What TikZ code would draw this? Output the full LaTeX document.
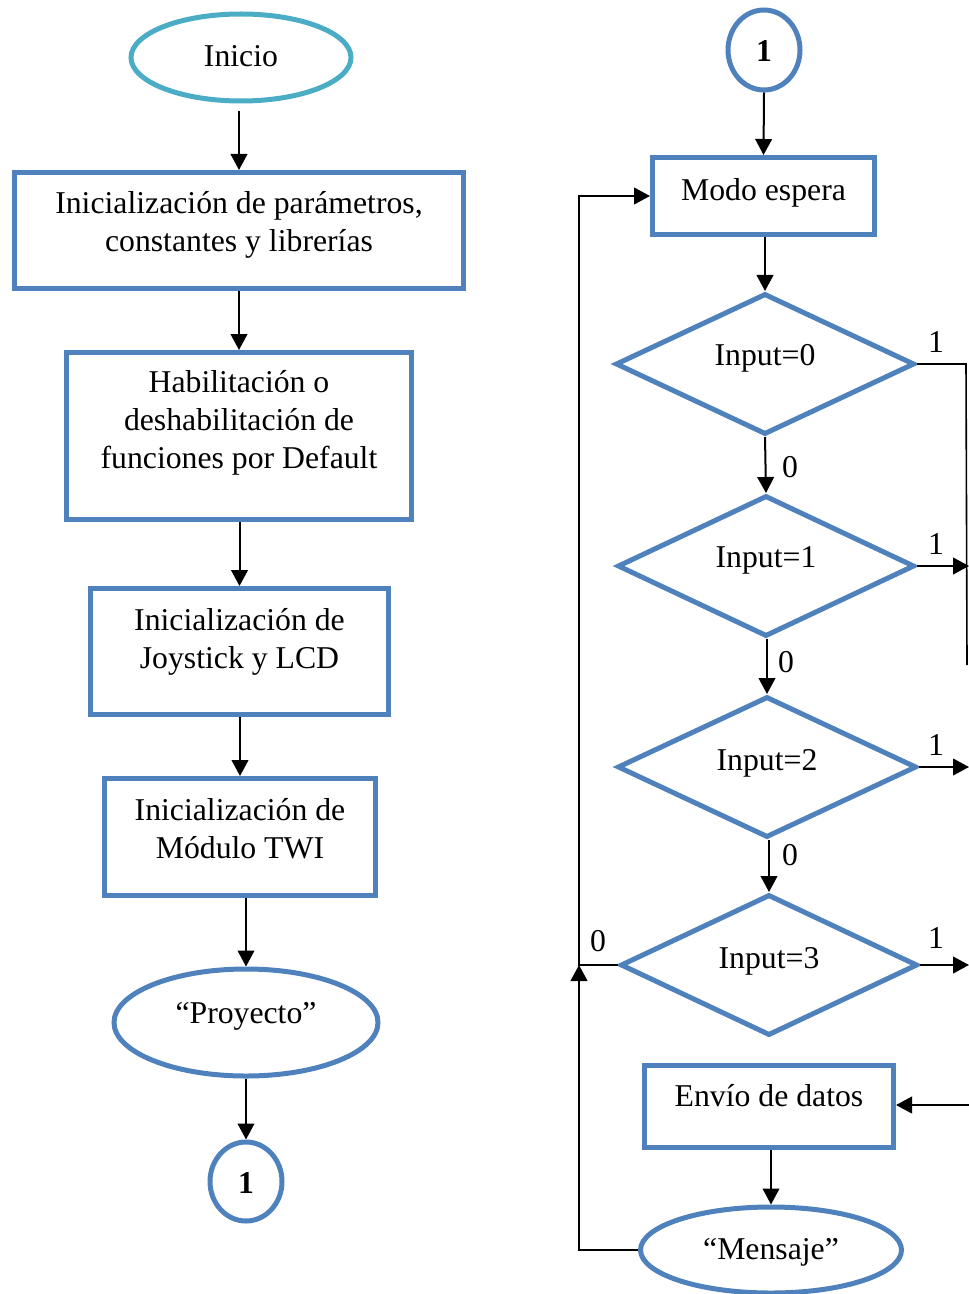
\documentclass[tikz,border=0pt]{standalone}
\usepackage{fontspec}
\setmainfont{Liberation Serif}
\usetikzlibrary{shapes.geometric,arrows.meta}
\definecolor{boxblue}{RGB}{79,129,189}
\definecolor{startcyan}{RGB}{75,172,198}
\begin{document}
\begin{tikzpicture}[x=0.75pt,y=-0.75pt,
  every node/.style={font=\fontsize{23.8}{28.5}\selectfont, inner sep=0pt, text=black},
  blk/.style={draw=boxblue, line width=3.75pt, rectangle},
  oval/.style={draw=boxblue, line width=3.75pt, ellipse},
  dec/.style={draw=boxblue, line width=3.75pt, diamond},
  txt/.style={align=center},
  conn/.style={line width=1.5pt, black},
  arr/.style={conn, -{Triangle[length=12pt,width=12.5pt]}}
]
\useasboundingbox (0,0) rectangle (969,1294);

% ---- left column: initialisation sequence ----
\node[oval, draw=startcyan, minimum width={220*0.75pt}, minimum height={87*0.75pt}] (inicio) at (241,57.5) {};
\node[txt] (inicioT) at ([yshift=0.75pt]inicio.center) {Inicio};

\node[blk, minimum width={449*0.75pt}, minimum height={116*0.75pt}] (b1) at (239,230.5) {};
\node[txt] (b1T) at ([yshift=4.5pt]b1.center) {Inicialización de parámetros,\\constantes y librerías};

\node[blk, minimum width={345*0.75pt}, minimum height={167*0.75pt}] (b2) at (239,436) {};
\node[txt] (b2T) at ([yshift=9.5pt]b2.center) {Habilitación o\\deshabilitación de\\funciones por Default};

\node[blk, minimum width={298*0.75pt}, minimum height={126*0.75pt}] (b3) at (239.5,651.5) {};
\node[txt] (b3T) at ([yshift=7pt]b3.center) {Inicialización de\\Joystick y LCD};

\node[blk, minimum width={271*0.75pt}, minimum height={117*0.75pt}] (b4) at (240,837) {};
\node[txt] (b4T) at ([yshift=6pt]b4.center) {Inicialización de\\Módulo TWI};

\node[oval, minimum width={264*0.75pt}, minimum height={107*0.75pt}] (proy) at (246,1022.5) {};
\node[txt] (proyT) at ([yshift=4.5pt]proy.center) {“Proyecto”};

\node[oval, minimum width={72*0.75pt}, minimum height={79*0.75pt}] (c1a) at (246,1181.5) {};
\node[txt] (c1aT) at ([yshift=-1pt]c1a.center) {\textbf{1}};

\draw[arr, shorten <=6pt] (inicio.south -| b1.north) -- (b1.north);
\draw[arr] (b1.south) -- (b2.north);
\draw[arr] (b2.south -| b3.north) -- (b3.north);
\draw[arr] (b3.south -| b4.north) -- (b4.north);
\draw[arr] (b4.south -| proy.north) -- (proy.north);
\draw[arr] (proy.south) -- (c1a.north);

% ---- right column: main loop ----
\node[oval, minimum width={72*0.75pt}, minimum height={80*0.75pt}] (c1b) at (764,50) {};
\node[txt] (c1bT) at ([yshift=-0.75pt]c1b.center) {\textbf{1}};

\node[blk, minimum width={222*0.75pt}, minimum height={77*0.75pt}] (modo) at (763.5,196) {};
\node[txt] (modoT) at ([yshift=2.5pt]modo.center) {Modo espera};

\node[dec, minimum width={299*0.75pt}, minimum height={141*0.75pt}] (d0) at (765,364) {};
\node[txt] (d0T) at ([yshift=4pt]d0.center) {Input=0};
\node[dec, minimum width={297*0.75pt}, minimum height={141*0.75pt}] (d1) at (766,566) {};
\node[txt] (d1T) at ([yshift=4pt]d1.center) {Input=1};
\node[dec, minimum width={299*0.75pt}, minimum height={141*0.75pt}] (d2) at (767,767) {};
\node[txt] (d2T) at ([yshift=3pt]d2.center) {Input=2};
\node[dec, minimum width={297*0.75pt}, minimum height={141*0.75pt}] (d3) at (769,965) {};
\node[txt] (d3T) at ([yshift=3pt]d3.center) {Input=3};

\node[blk, minimum width={249*0.75pt}, minimum height={82*0.75pt}] (envio) at (769,1106.5) {};
\node[txt] (envioT) at ([yshift=8pt]envio.center) {Envío de datos};

\node[oval, minimum width={261*0.75pt}, minimum height={86*0.75pt}] (msg) at (771,1250) {};
\node[txt] (msgT) at ([yshift=-1.5pt]msg.center) {“Mensaje”};

\draw[arr] (c1b.south) -- (modo.north);
\draw[arr] (modo.south -| d0.north) -- (d0.north);
\draw[arr] (d0.south) -- (d1.north);
\draw[arr] (d1.south -| d2.north) -- (d2.north);
\draw[arr] (d2.south -| d3.north) -- (d3.north);
\draw[arr] (envio.south -| msg.north) -- (msg.north);

% branch labels
\node (l0a) at (790,467) {0};
\node (l0b) at (786,662) {0};
\node (l0c) at (790,855) {0};
\node (l0d) at (598,941) {0};
\node (l1a) at (936,342) {1};
\node (l1b) at (936,544) {1};
\node (l1c) at (936,745) {1};
\node (l1d) at (936,938) {1};

% return path on the left
\coordinate (jn) at (579,965);
\draw[arr] (d3.west) -- (d3.west -| jn) |- (modo.west);
\draw[arr] (msg.west) -| (jn);

% outgoing branches on the right
\coordinate (rx) at (969,0);
\coordinate (r0) at (966,363);
\coordinate (r0end) at (967,665);
\draw[line width=1.2pt] (d0.east) -- (d0.east -| r0) -- (r0end);
\draw[arr] (d1.east) -- (d1.east -| rx);
\draw[arr] (d2.east) -- (d2.east -| rx);
\draw[arr] (d3.east) -- (d3.east -| rx);
\coordinate (rE) at (969,1105);
\draw[arr] (rE) -- (rE -| envio.east);
\end{tikzpicture}
\end{document}
